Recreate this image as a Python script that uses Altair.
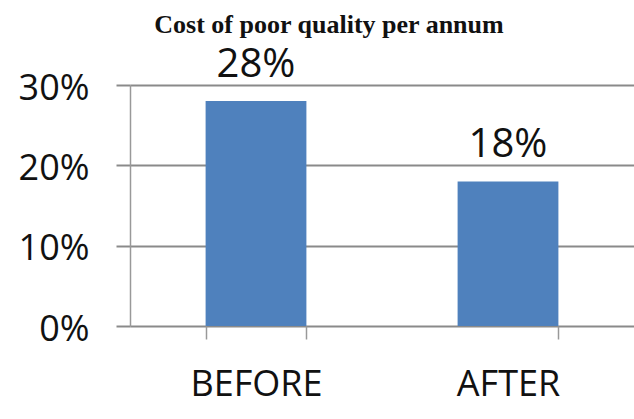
import altair as alt
import pandas as pd

# Cost of poor quality, share per annum
phases = ["BEFORE", "AFTER"]
cost_share = [0.28, 0.18]
y_ticks = [0.0, 0.1, 0.2, 0.3]

df = pd.DataFrame({"phase": phases, "cost": cost_share})

BAR_BLUE = "#4F81BD"
GRID_GRAY = "#8a8a8a"
NUM_FONT = "Open Sans"

x_enc = alt.X(
    "phase:N",
    sort=phases,
    scale=alt.Scale(paddingInner=0.6, paddingOuter=0.3),
    axis=alt.Axis(
        title=None,
        labelAngle=0,
        labelFont=NUM_FONT,
        labelFontSize=36,
        labelColor="#111111",
        labelPadding=28,
        tickBand="extent",
        tickSize=13,
        tickColor="#999999",
        tickWidth=1.5,
        domain=False,
        grid=False,
    ),
)

y_enc = alt.Y(
    "cost:Q",
    scale=alt.Scale(domain=[0, 0.3], nice=False),
    axis=alt.Axis(
        title=None,
        values=y_ticks,
        format=".0%",
        labelFont=NUM_FONT,
        labelFontSize=36,
        labelColor="#111111",
        labelPadding=27,
        labelOffset=3,
        tickSize=14,
        tickColor=GRID_GRAY,
        tickWidth=2,
        grid=True,
        gridColor=GRID_GRAY,
        gridWidth=2,
        gridOpacity=1,
        domain=True,
        domainColor="#999999",
        domainWidth=1.5,
    ),
)

bars = alt.Chart(df).mark_bar(color=BAR_BLUE).encode(x=x_enc, y=y_enc)

labels = alt.Chart(df).mark_text(
    font=NUM_FONT, fontSize=40, color="#111111", baseline="alphabetic", dy=-24
).encode(
    x=alt.X("phase:N", sort=phases),
    y=alt.Y("cost:Q"),
    text=alt.Text("cost:Q", format=".0%"),
)

chart = (
    alt.layer(bars, labels)
    .properties(
        width=504,
        height=241,
        title=alt.TitleParams(
            "Cost of poor quality per annum",
            font="Liberation Serif",
            fontSize=26,
            fontWeight="bold",
            color="#111111",
            anchor="middle",
            dx=-53,
            offset=7,
        ),
        autosize=alt.AutoSizeParams(type="none"),
        padding={"left": 130, "top": 85, "right": 0, "bottom": 93},
    )
    .configure_view(stroke=None)
    .configure(background="white")
)

chart.save("out.html", embed_options={"renderer": "svg", "actions": False})
